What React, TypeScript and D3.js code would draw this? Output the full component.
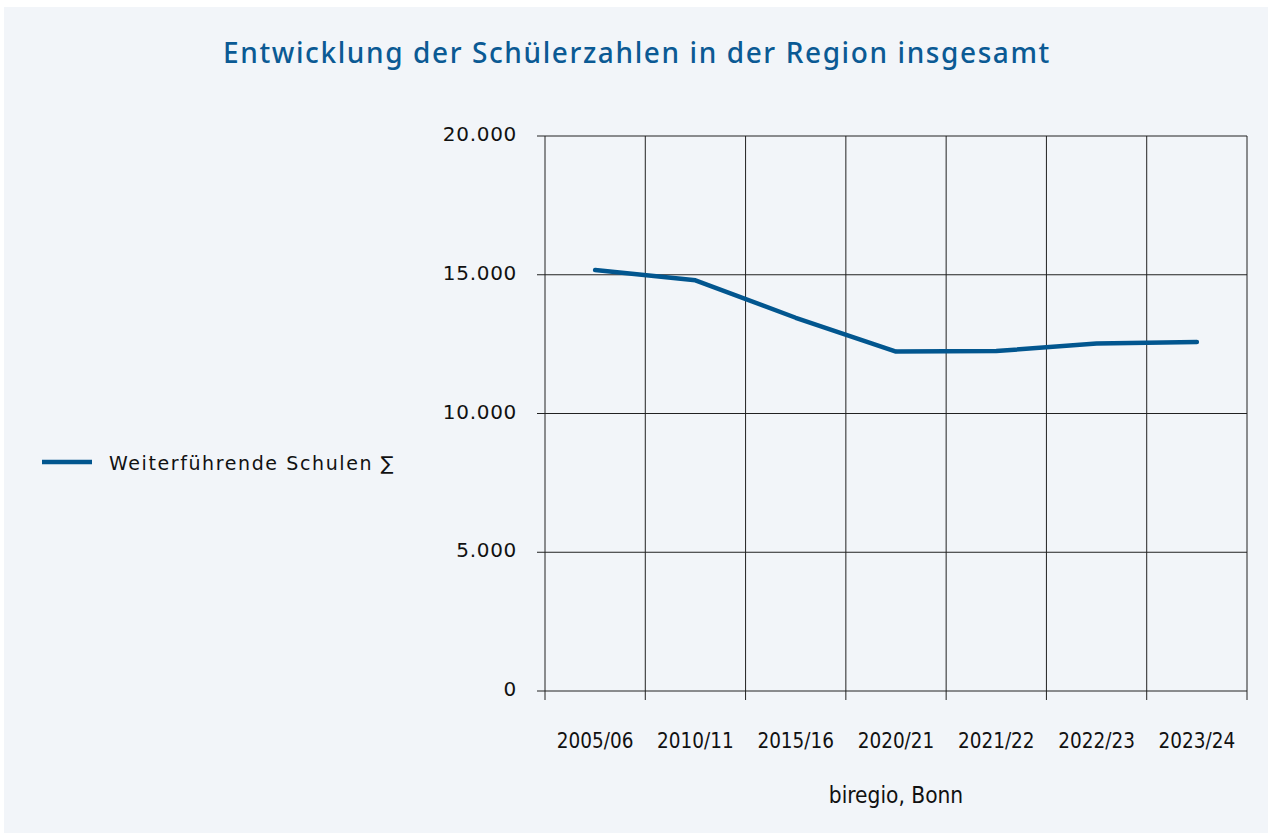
import React, { useEffect, useRef } from "react";
import * as d3 from "d3";

// Schuljahre und Schülerzahlen (Weiterführende Schulen, Summe)
const years = ["2005/06", "2010/11", "2015/16", "2020/21", "2021/22", "2022/23", "2023/24"];
const pupils = [15170, 14800, 13450, 12230, 12250, 12520, 12580];
const yTicks = [0, 5000, 10000, 15000, 20000];

const W = 1268;
const H = 835;
const condensed = "'DejaVu Sans Condensed', 'DejaVu Sans', sans-serif";

function App() {
  const ref = useRef<SVGSVGElement>(null);

  useEffect(() => {
    const svg = d3.select(ref.current);
    svg.selectAll("*").remove();

    const margin = { top: 136, right: 21, bottom: 144, left: 545 };
    const width = W - margin.left - margin.right;
    const height = H - margin.top - margin.bottom;

    // background panel
    svg.append("rect")
      .attr("x", 4).attr("y", 7)
      .attr("width", W - 4).attr("height", 826)
      .attr("fill", "#f2f5f9");

    svg.append("text")
      .attr("x", 637).attr("y", 63)
      .attr("text-anchor", "middle")
      .attr("font-family", "'Noto Sans', sans-serif")
      .attr("font-size", 28)
      .attr("font-weight", 500)
      .attr("letter-spacing", 1.6)
      .attr("fill", "#0b5a94")
      .text("Entwicklung der Schülerzahlen in der Region insgesamt");

    const g = svg.append("g")
      .attr("transform", `translate(${margin.left}, ${margin.top})`);

    const x = d3.scaleBand().domain(years).range([0, width]);
    const y = d3.scaleLinear().domain([0, 20000]).range([height, 0]);

    // horizontal grid
    g.selectAll(".hgrid")
      .data(yTicks)
      .enter().append("line")
      .attr("x1", -8).attr("x2", width)
      .attr("y1", (d) => y(d)).attr("y2", (d) => y(d))
      .attr("stroke", "#222").attr("stroke-width", 1);

    // vertical grid at band edges
    const edges = years.map((d) => x(d) as number).concat([width]);
    g.selectAll(".vgrid")
      .data(edges)
      .enter().append("line")
      .attr("x1", (d) => d).attr("x2", (d) => d)
      .attr("y1", 0).attr("y2", height + 9)
      .attr("stroke", "#222").attr("stroke-width", 1);

    // y labels
    g.selectAll(".ylab")
      .data(yTicks)
      .enter().append("text")
      .attr("x", -28)
      .attr("y", (d) => y(d) - 2)
      .attr("dy", "0.35em")
      .attr("text-anchor", "end")
      .attr("font-family", "'DejaVu Sans', sans-serif")
      .attr("font-size", 20)
      .attr("letter-spacing", 0.7)
      .attr("fill", "#111")
      .text((d) => d3.format(",")(d).replace(/,/g, "."));

    // x labels
    g.selectAll(".xlab")
      .data(years)
      .enter().append("text")
      .attr("x", (d) => (x(d) as number) + x.bandwidth() / 2)
      .attr("y", height + 57)
      .attr("text-anchor", "middle")
      .attr("font-family", condensed)
      .attr("font-stretch", "condensed")
      .attr("font-size", 20.5)
      .attr("fill", "#111")
      .text((d) => d);

    g.append("text")
      .attr("x", width / 2)
      .attr("y", height + 112)
      .attr("text-anchor", "middle")
      .attr("font-family", condensed)
      .attr("font-stretch", "condensed")
      .attr("font-size", 22.5)
      .attr("fill", "#111")
      .text("biregio, Bonn");

    const line = d3.line<number>()
      .x((d, i) => (x(years[i]) as number) + x.bandwidth() / 2)
      .y((d) => y(d));

    g.append("path")
      .datum(pupils)
      .attr("fill", "none")
      .attr("stroke", "#02568f")
      .attr("stroke-width", 4.5)
      .attr("stroke-linecap", "round")
      .attr("stroke-linejoin", "round")
      .attr("d", line);

    // legend
    svg.append("line")
      .attr("x1", 42).attr("x2", 92)
      .attr("y1", 462).attr("y2", 462)
      .attr("stroke", "#02568f").attr("stroke-width", 4.5);

    svg.append("text")
      .attr("x", 109).attr("y", 463)
      .attr("dy", "0.35em")
      .attr("font-family", "'DejaVu Sans', sans-serif")
      .attr("font-size", 19)
      .attr("letter-spacing", 1.6)
      .attr("fill", "#111")
      .text("Weiterführende Schulen ∑");
  }, []);

  return (
    <svg ref={ref} width={W} height={H}
      style={{ position: "absolute", left: 0, top: 0, background: "#fff" }} />
  );
}

export default App;
